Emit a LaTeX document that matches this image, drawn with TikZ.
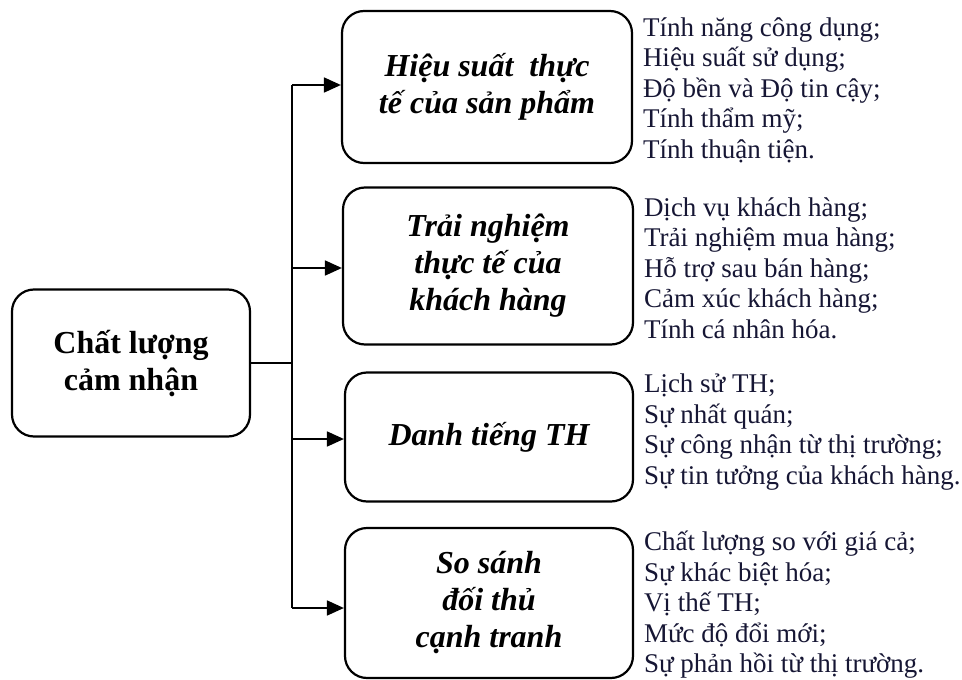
\documentclass[tikz,border=0pt]{standalone}
\usepackage{fontspec}
\setmainfont{Liberation Serif}
\usepackage{xcolor}
\usetikzlibrary{arrows.meta}
\definecolor{listtext}{RGB}{22,22,52}

\begin{document}
\begin{tikzpicture}[x=1pt, y=-1pt, line width=1.8pt,
	box/.style={draw, rounded corners=22pt, line width=2.2pt, align=center, inner sep=0pt},
	head/.style={box, font=\fontsize{32}{37}\selectfont\bfseries\itshape, minimum width=290pt},
	items/.style={anchor=west, align=left, text=listtext, inner sep=0pt, font=\fontsize{27}{30.5}\selectfont},
	arr/.style={-{Triangle[length=17pt, width=15pt]}}]
	\useasboundingbox (0,0) rectangle (962,680);
		\node[box, font=\fontsize{32}{37}\selectfont\bfseries, minimum width=238pt, minimum height=147pt] (main) at (131,363) {Chất lượng\\cảm nhận};
		\node[head, minimum height=152pt] (perf) at (487,87) {Hiệu suất~ thực\\tế của sản phẩm};
		\node[head, minimum height=157pt] (exp) at (488,266) {Trải nghiệm\\thực tế của\\khách hàng};
		\node[head, minimum height=129pt, minimum width=288pt] (rep) at (489,437) {Danh tiếng TH};
		\node[head, minimum height=150pt, minimum width=288pt] (comp) at (489,603) {So sánh\\đối thủ\\cạnh tranh};
		\coordinate (jn) at (292,363);
		\draw (main.east) -- (jn);
		\draw ([yshift=2pt]perf.west -| jn) -- ([yshift=-5pt]comp.west -| jn);
		\draw[arr] ([yshift=2pt]perf.west -| jn) -- ([yshift=2pt]perf.west);
		\draw[arr] ([yshift=-2pt]exp.west -| jn) -- ([yshift=-2pt]exp.west);
		\draw[arr] ([yshift=-2pt]rep.west -| jn) -- ([yshift=-2pt]rep.west);
		\draw[arr] ([yshift=-5pt]comp.west -| jn) -- ([yshift=-5pt]comp.west);
		% lists beside each box
		\node[items] (perfl) at ([xshift=9pt,yshift=-3pt]perf.east) {Tính năng công dụng;\\Hiệu suất sử dụng;\\Độ bền và Độ tin cậy;\\Tính thẩm mỹ;\\Tính thuận tiện.};
		\node[items] (expl) at ([xshift=9pt,yshift=-2pt]exp.east) {Dịch vụ khách hàng;\\Trải nghiệm mua hàng;\\Hỗ trợ sau bán hàng;\\Cảm xúc khách hàng;\\Tính cá nhân hóa.};
		\node[items] (repl) at ([xshift=9pt,yshift=5pt]rep.east) {Lịch sử TH;\\Sự nhất quán;\\Sự công nhận từ thị trường;\\Sự tin tưởng của khách hàng.};
		\node[items] (compl) at ([xshift=9pt,yshift=-2pt]comp.east) {Chất lượng so với giá cả;\\Sự khác biệt hóa;\\Vị thế TH;\\Mức độ đổi mới;\\Sự phản hồi từ thị trường.};
	\end{tikzpicture}
\end{document}
